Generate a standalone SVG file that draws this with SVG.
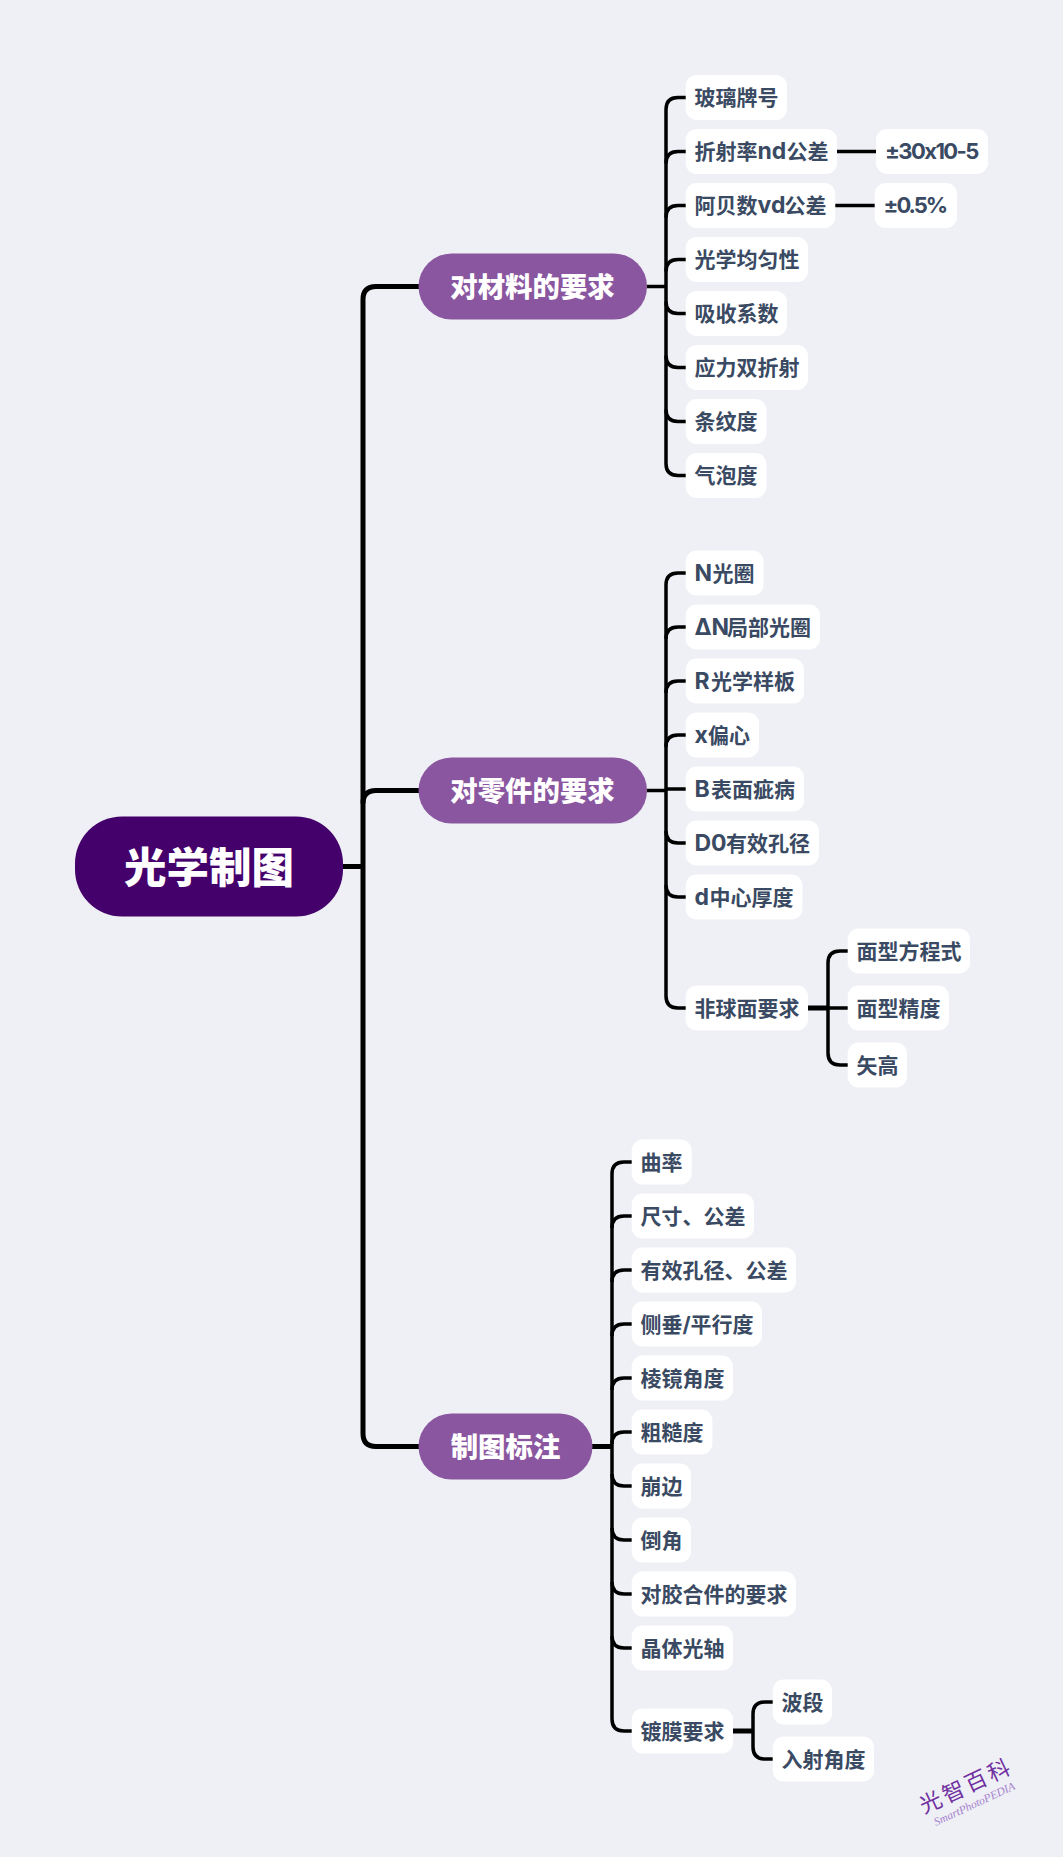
<svg xmlns="http://www.w3.org/2000/svg" width="1063" height="1857" viewBox="0 0 1063 1857">
<style>
.t{font-family:"Inter","Noto Sans CJK SC","Noto Sans",sans-serif;font-weight:700;font-variant-ligatures:none;font-feature-settings:"calt" 0,"liga" 0}
.l{fill:#fff}
.lt{font-size:21px;fill:#3a4a63}
.la{font-size:23px}
.m{fill:#8a569f}
.mt{font-size:27.400px;fill:#fff;font-weight:900}
.c{fill:none;stroke:#000;stroke-linecap:butt}
.a{stroke-width:5}
.b{stroke-width:3.500}
</style>
<rect width="1063" height="1857" fill="#eef0f5"/>
<g id="connectors">
<path class="c a" d="M343 866.500H365"/>
<path class="c a" d="M419 286.500H376Q363 286.500 363 299.500V1433.500Q363 1446.500 376 1446.500H419"/>
<path class="c a" d="M419 790.500H376Q363 790.500 363 803.500"/>
<path class="c b" d="M647 286.500H666"/>
<path class="c b" d="M686 97.500H678Q666 97.500 666 109.500V463.500Q666 475.500 678 475.500H686"/>
<path class="c b" d="M686 151.500H678Q666 151.500 666 163.500M686 205.500H678Q666 205.500 666 217.500M686 259.500H678Q666 259.500 666 271.500M686 313.500H678Q666 313.500 666 301.500M686 367.500H678Q666 367.500 666 355.500M686 421.500H678Q666 421.500 666 409.500"/>
<path class="c b" d="M837 151.500H876M835 205.500H875"/>
<path class="c b" d="M647 790.500H666"/>
<path class="c b" d="M686 573H678Q666 573 666 585V996Q666 1008 678 1008H686"/>
<path class="c b" d="M686 627H678Q666 627 666 639M686 681H678Q666 681 666 693M686 735H678Q666 735 666 747M686 789H666M686 843H678Q666 843 666 831M686 897H678Q666 897 666 885"/>
<path class="c a" d="M808 1008H828"/>
<path class="c b" d="M828 1008H848M848 951H840Q828 951 828 963V1053Q828 1065 840 1065H848"/>
<path class="c a" d="M592 1446.500H612"/>
<path class="c b" d="M632 1162H624Q612 1162 612 1174V1719Q612 1731 624 1731H632"/>
<path class="c b" d="M632 1216H624Q612 1216 612 1228M632 1270H624Q612 1270 612 1282M632 1324H624Q612 1324 612 1336M632 1378H624Q612 1378 612 1390M632 1432H624Q612 1432 612 1444M632 1486H624Q612 1486 612 1474M632 1540H624Q612 1540 612 1528M632 1594H624Q612 1594 612 1582M632 1648H624Q612 1648 612 1636"/>
<path class="c a" d="M733 1731H753"/>
<path class="c b" d="M773 1702H765Q753 1702 753 1714V1747Q753 1759 765 1759H773"/>
</g>
<g id="root"><rect x="75" y="816.500" width="268" height="100" rx="47" fill="#44006b"/><text class="t" x="209" y="882.500" text-anchor="middle" font-size="42.500" fill="#fff" style="font-weight:900">光学制图</text></g>
<g id="m1"><rect class="m" x="418.500" y="253.500" width="228.500" height="66" rx="33"/><text class="t mt" x="532.500" y="296.500" text-anchor="middle">对材料的要求</text></g>
<g id="m2"><rect class="m" x="418.500" y="757.500" width="228.500" height="66" rx="33"/><text class="t mt" x="532.500" y="800.500" text-anchor="middle">对零件的要求</text></g>
<g id="m3"><rect class="m" x="418.500" y="1413.500" width="174" height="66" rx="33"/><text class="t mt" x="505.500" y="1456.500" text-anchor="middle">制图标注</text></g>

<g id="n1"><rect class="l" x="685.700" y="75" width="101.300" height="45" rx="11"/><text class="t lt" x="694.500" y="105">玻璃牌号</text></g>
<g id="n2"><rect class="l" x="685.700" y="129" width="151.300" height="45" rx="11"/><text class="t lt" x="694.500" y="159">折射率<tspan class="la" x="757.500">nd</tspan><tspan x="786.500">公差</tspan></text></g>
<g id="n3"><rect class="l" x="685.700" y="183" width="149.600" height="45" rx="11"/><text class="t lt" x="694.500" y="213">阿贝数<tspan class="la" x="757.500">vd</tspan><tspan x="784.500">公差</tspan></text></g>
<g id="n4"><rect class="l" x="685.700" y="237" width="122.300" height="45" rx="11"/><text class="t lt" x="694.500" y="267">光学均匀性</text></g>
<g id="n5"><rect class="l" x="685.700" y="291" width="101.300" height="45" rx="11"/><text class="t lt" x="694.500" y="321">吸收系数</text></g>
<g id="n6"><rect class="l" x="685.700" y="345" width="122.300" height="45" rx="11"/><text class="t lt" x="694.500" y="375">应力双折射</text></g>
<g id="n7"><rect class="l" x="685.700" y="399" width="80.700" height="45" rx="11"/><text class="t lt" x="694.500" y="429">条纹度</text></g>
<g id="n8"><rect class="l" x="685.700" y="453" width="80.700" height="45" rx="11"/><text class="t lt" x="694.500" y="483">气泡度</text></g>
<g id="n9"><rect class="l" x="876" y="129" width="112" height="45" rx="11"/><text class="t lt" x="885" y="159" textLength="94.300" style="font-size:22px">±30x10-5</text></g>
<g id="n10"><rect class="l" x="874.700" y="183" width="82.300" height="45" rx="11"/><text class="t lt" x="883.500" y="213" textLength="64.700" style="font-size:22px">±0.5%</text></g>

<g id="n11"><rect class="l" x="685.700" y="550.500" width="77.800" height="45" rx="11"/><text class="t lt" x="694.500" y="580.500"><tspan class="la">N</tspan><tspan x="712.600">光圈</tspan></text></g>
<g id="n12"><rect class="l" x="685.700" y="604.500" width="134.300" height="45" rx="11"/><text class="t lt" x="694.500" y="634.500"><tspan class="la">ΔN</tspan><tspan x="727">局部光圈</tspan></text></g>
<g id="n13"><rect class="l" x="685.700" y="658.500" width="118.300" height="45" rx="11"/><text class="t lt" x="694.500" y="688.500"><tspan class="la">R</tspan><tspan x="711">光学样板</tspan></text></g>
<g id="n14"><rect class="l" x="685.700" y="712.500" width="73.300" height="45" rx="11"/><text class="t lt" x="694.500" y="742.500"><tspan class="la">x</tspan><tspan x="708">偏心</tspan></text></g>
<g id="n15"><rect class="l" x="685.700" y="766.500" width="118.300" height="45" rx="11"/><text class="t lt" x="694.500" y="796.500"><tspan class="la">B</tspan><tspan x="711">表面疵病</tspan></text></g>
<g id="n16"><rect class="l" x="685.700" y="820.500" width="133.300" height="45" rx="11"/><text class="t lt" x="694.500" y="850.500"><tspan class="la">D0</tspan><tspan x="726">有效孔径</tspan></text></g>
<g id="n17"><rect class="l" x="685.700" y="874.500" width="116.700" height="45" rx="11"/><text class="t lt" x="694.500" y="904.500"><tspan class="la">d</tspan><tspan x="709.500">中心厚度</tspan></text></g>
<g id="n18"><rect class="l" x="685.700" y="985.500" width="122.300" height="45" rx="11"/><text class="t lt" x="694.500" y="1015.500">非球面要求</text></g>
<g id="n19"><rect class="l" x="847.700" y="928.500" width="122.300" height="45" rx="11"/><text class="t lt" x="856.500" y="958.500">面型方程式</text></g>
<g id="n20"><rect class="l" x="847.700" y="985.500" width="101.300" height="45" rx="11"/><text class="t lt" x="856.500" y="1015.500">面型精度</text></g>
<g id="n21"><rect class="l" x="847.700" y="1042.500" width="59.300" height="45" rx="11"/><text class="t lt" x="856.500" y="1072.500">矢高</text></g>

<g id="n22"><rect class="l" x="631.700" y="1139.500" width="60" height="45" rx="11"/><text class="t lt" x="640.500" y="1169.500">曲率</text></g>
<g id="n23"><rect class="l" x="631.700" y="1193.500" width="122.300" height="45" rx="11"/><text class="t lt" x="640.500" y="1223.500">尺寸、公差</text></g>
<g id="n24"><rect class="l" x="631.700" y="1247.500" width="164.300" height="45" rx="11"/><text class="t lt" x="640.500" y="1277.500">有效孔径、公差</text></g>
<g id="n25"><rect class="l" x="631.700" y="1301.500" width="130.300" height="45" rx="11"/><text class="t lt" x="640.500" y="1331.500">侧垂<tspan x="682.500">/</tspan><tspan x="690.500">平行度</tspan></text></g>
<g id="n26"><rect class="l" x="631.700" y="1355.500" width="101.300" height="45" rx="11"/><text class="t lt" x="640.500" y="1385.500">棱镜角度</text></g>
<g id="n27"><rect class="l" x="631.700" y="1409.500" width="80.700" height="45" rx="11"/><text class="t lt" x="640.500" y="1439.500">粗糙度</text></g>
<g id="n28"><rect class="l" x="631.700" y="1463.500" width="59.300" height="45" rx="11"/><text class="t lt" x="640.500" y="1493.500">崩边</text></g>
<g id="n29"><rect class="l" x="631.700" y="1517.500" width="59.300" height="45" rx="11"/><text class="t lt" x="640.500" y="1547.500">倒角</text></g>
<g id="n30"><rect class="l" x="631.700" y="1571.500" width="164.300" height="45" rx="11"/><text class="t lt" x="640.500" y="1601.500">对胶合件的要求</text></g>
<g id="n31"><rect class="l" x="631.700" y="1625.500" width="101.300" height="45" rx="11"/><text class="t lt" x="640.500" y="1655.500">晶体光轴</text></g>
<g id="n32"><rect class="l" x="631.700" y="1708.500" width="101.300" height="45" rx="11"/><text class="t lt" x="640.500" y="1738.500">镀膜要求</text></g>
<g id="n33"><rect class="l" x="772.700" y="1679.500" width="59.300" height="45" rx="11"/><text class="t lt" x="781.500" y="1709.500">波段</text></g>
<g id="n34"><rect class="l" x="772.700" y="1736.500" width="101.300" height="45" rx="11"/><text class="t lt" x="781.500" y="1766.500">入射角度</text></g>

<g id="watermark">
<text transform="translate(924 1814) rotate(-25)" font-family="'Noto Sans CJK SC',sans-serif" font-size="22" letter-spacing="3" fill="#7030a0">光智百科</text>
<text transform="translate(936 1826) rotate(-25)" font-family="'Liberation Serif',serif" font-style="italic" font-size="11.500" fill="#a680cc">SmartPhotoPEDIA</text>
</g>
</svg>
